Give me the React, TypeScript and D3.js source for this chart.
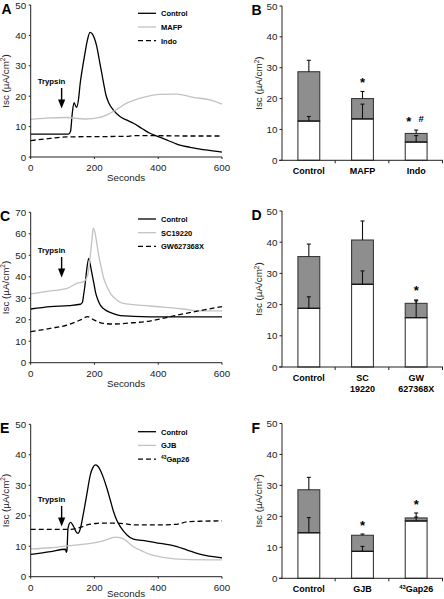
import React from "react";
import * as d3 from "d3";

const FONT = "'Liberation Sans', Arial, Helvetica, sans-serif";
type Pt = [number, number];

// ---------- Panel A ----------
const aControl: Pt[] = [[0,7.5],[60,7.5],[118,7.5],[125,8.5],[130,14],[136,17.9],[140,17],[144,16.3],[150,19],[155,24],[162,29],[170,34],[178,38.5],[186,41],[193,40.5],[200,39],[207,36.5],[215,32],[223,27.5],[230,23.5],[236,20.4],[245,17.8],[259,15.5],[280,13.3],[300,12.2],[322,11.1],[350,9.3],[374,7.8],[400,6.7],[426,5.6],[450,4.6],[468,3.9],[500,3.2],[531,2.6],[565,2.1],[600,1.6]];
const aMAFP: Pt[] = [[0,12.4],[50,12.8],[113,13.0],[170,12.5],[217,13.0],[249,14.4],[275,16],[301,17.7],[330,18.9],[353,19.6],[405,20.6],[458,20.7],[510,19.6],[562,18.8],[600,17.4]];
const aIndo: Pt[] = [[0,5.4],[61,6.1],[113,6.6],[200,6.7],[300,6.8],[322,7.0],[400,7.0],[500,6.9],[600,6.9]];

// ---------- Panel C ----------
const cControl: Pt[] = [[0,25],[62,26.1],[120,26.6],[156,27.2],[162,28],[166,31.5],[171,37],[175,42.4],[182,48.6],[187,45.5],[192,41.6],[198,37],[203,33],[210,29.5],[218,26.9],[228,25.2],[239,24.1],[260,22.8],[281,21.9],[322,21.6],[426,21.3],[600,21.3]];
const cSC: Pt[] = [[0,32],[62,33.4],[114,34.6],[146,37],[166,37.7],[179,40.8],[187,50],[192,57],[196,62.6],[200,61.5],[203,59.5],[208,55],[213,50.2],[221,44.5],[229,39.3],[240,35.2],[250,32.3],[270,29.2],[290,27.6],[374,26.4],[478,25],[530,24.1],[600,24.1]];
const cGW: Pt[] = [[0,14.4],[62,16],[114,17.5],[156,19.9],[179,21.4],[198,19.9],[215,18.8],[229,18.3],[260,18],[322,18.6],[374,19.4],[426,21],[478,22.7],[530,24.2],[600,26.1]];

// ---------- Panel E ----------
const eControl: Pt[] = [[0,7.3],[62,8.2],[109,9.0],[112,8.0],[114,9],[117,15.9],[125,17.8],[135,16.4],[142,14.8],[148,14.2],[156,15.9],[164,20],[172,24.6],[180,29.5],[187,33.4],[195,35.8],[203,36.7],[210,36.3],[218,35],[228,32.5],[239,29],[250,25],[260,21.3],[270,18.5],[281,16.4],[302,13.7],[322,12.3],[364,11.7],[406,10.9],[447,10.2],[489,8.8],[530,7.4],[600,6.2]];
const eGJB: Pt[] = [[0,9.1],[62,9.5],[114,10.1],[187,10.9],[218,11.5],[245,12.4],[265,13.0],[280,12.8],[291,12.4],[305,11.3],[322,9.8],[350,8.4],[374,7.3],[400,6.7],[426,6.2],[478,5.7],[600,5.5]];
const eGap: Pt[] = [[0,15.5],[114,15.5],[146,15.9],[162,16.4],[177,17.0],[200,17.4],[218,17.6],[260,17.6],[300,17.3],[322,17.0],[400,17.0],[458,17.2],[489,18.0],[530,18.2],[600,18.3]];

const xTicks = [0, 200, 400, 600];
const yTicks50 = [0, 10, 20, 30, 40, 50];
const yTicks70 = [0, 10, 20, 30, 40, 50, 60, 70];
const trypsinTime = 97;

// ---------- Bars ----------
const bCats = ["Control", "MAFP", "Indo"];
const bWhite = [12.7, 13.4, 5.9];
const bWhiteSE = [1.5, 4.8, 2.1];
const bTotal = [28.7, 20.0, 8.7];
const bTotalSE = [3.7, 2.3, 1.1];
const bMarks = ["", "*", "*#"];

const dCats = ["Control", "SC|19220", "GW|627368X"];
const dWhite = [18.8, 26.5, 15.8];
const dWhiteSE = [3.7, 4.3, 5.4];
const dTotal = [35.4, 40.7, 20.4];
const dTotalSE = [4.0, 6.1, 1.1];
const dMarks = ["", "", "*"];

const fCats = ["Control", "GJB", "43Gap26"];
const fWhite = [14.7, 8.7, 18.5];
const fWhiteSE = [4.9, 1.6, 1.3];
const fTotal = [28.6, 13.9, 19.5];
const fTotalSE = [4.0, 0.4, 1.6];
const fMarks = ["", "*", "*"];

const LIGHT = "#c2c2c2";
const BARGRAY = "#8e8e8e";

type Series = { name: string; data: Pt[]; color: string; dash?: string };

function Label({ text, x, y, size, anchor = "start" }: { text: string; x: number; y: number; size: number; anchor?: string }) {
  if (text.startsWith("43")) {
    return (
      <text x={x} y={y} fontSize={size} fontWeight="bold" textAnchor={anchor as any} fontFamily={FONT}>
        <tspan fontSize={size * 0.65} dy={-size * 0.35}>43</tspan>
        <tspan dy={size * 0.35}>{text.slice(2)}</tspan>
      </text>
    );
  }
  return (
    <text x={x} y={y} fontSize={size} fontWeight="bold" textAnchor={anchor as any} fontFamily={FONT}>{text}</text>
  );
}

function YLabel({ x, y }: { x: number; y: number }) {
  return (
    <text transform={`translate(${x},${y}) rotate(-90)`} fontSize={9.8} textAnchor="middle" fontFamily={FONT} fill="#222">
      Isc (µA/cm<tspan fontSize={6.5} dy={-3.5}>2</tspan><tspan dy={3.5}>)</tspan>
    </text>
  );
}

function LinePanel({ letter, top, bottom, yMax, yTicks, series, legendY, tryY, secY }: {
  letter: string; top: number; bottom: number; yMax: number; yTicks: number[]; series: Series[]; legendY: number; tryY: number; secY: number;
}) {
  const x = d3.scaleLinear().domain([0, 600]).range([30.7, 222]);
  const y = d3.scaleLinear().domain([0, yMax]).range([bottom, top]);
  const line = d3.line<Pt>().x(d => x(d[0])).y(d => y(d[1])).curve(d3.curveMonotoneX);
  const ax = x(0);
  const tx = x(trypsinTime);
  return (
    <g>
      <text x={letter === "A" ? 1.5 : 0} y={top + 9} fontSize={14} fontWeight="bold" fontFamily={FONT}>{letter}</text>
      {series.map(s => (
        <path key={s.name} d={line(s.data) || ""} fill="none" stroke={s.color} strokeWidth={1.3} strokeDasharray={s.dash} />
      ))}
      <line x1={ax} x2={ax} y1={top} y2={bottom} stroke="#222" strokeWidth={1} />
      <line x1={ax} x2={222} y1={bottom} y2={bottom} stroke="#222" strokeWidth={1} />
      {yTicks.map(t => (
        <g key={t}>
          <line x1={ax - 2} x2={ax} y1={y(t)} y2={y(t)} stroke="#222" />
          <text x={ax - 4.5} y={y(t) + 3.5} fontSize={9.8} textAnchor="end" fontFamily={FONT} fill="#222">{t}</text>
        </g>
      ))}
      {xTicks.map(t => (
        <g key={t}>
          <line x1={x(t)} x2={x(t)} y1={bottom} y2={bottom + 2} stroke="#222" />
          <text x={x(t)} y={bottom + 14} fontSize={9.8} textAnchor="middle" fontFamily={FONT} fill="#222">{t}</text>
        </g>
      ))}
      <text x={126} y={secY} fontSize={9.8} textAnchor="middle" fontFamily={FONT} fill="#222">Seconds</text>
      <YLabel x={8.5} y={(top + bottom) / 2} />
      {series.map((s, i) => (
        <g key={"lg" + s.name}>
          <line x1={138} x2={156} y1={legendY + i * 13.7} y2={legendY + i * 13.7} stroke={s.color} strokeWidth={1.3} strokeDasharray={s.dash} />
          <Label text={s.name} x={161} y={legendY + i * 13.7 + 2.8} size={7.5} />
        </g>
      ))}
      <Label text="Trypsin" x={51.5} y={tryY} size={7.8} anchor="middle" />
      <line x1={tx} x2={tx} y1={tryY + 4} y2={tryY + 16} stroke="#000" strokeWidth={1.4} />
      <path d={`M${tx - 3.6},${tryY + 15.5} L${tx + 3.6},${tryY + 15.5} L${tx},${tryY + 24.5} Z`} fill="#000" />
    </g>
  );
}

function BarPanel({ letter, top, bottom, cats, white, whiteSE, total, totalSE, marks }: {
  letter: string; top: number; bottom: number; cats: string[]; white: number[]; whiteSE: number[]; total: number[]; totalSE: number[]; marks: string[];
}) {
  const x = d3.scaleBand().domain(cats).range([282, 443]).paddingInner(0.593).paddingOuter(0.2965);
  const y = d3.scaleLinear().domain([0, 50]).range([bottom, top]);
  const step = x.step();
  const bw = x.bandwidth();
  const ax = 282;
  return (
    <g>
      <text x={251.5} y={top + 9} fontSize={14} fontWeight="bold" fontFamily={FONT}>{letter}</text>
      {cats.map((c, i) => {
        const x0 = x(c) as number;
        const cx = x0 + bw / 2;
        const my = y(total[i] + totalSE[i] + 3.8);
        const pair = marks[i].length > 1;
        return (
          <g key={c}>
            <rect x={x0} y={y(total[i])} width={bw} height={y(white[i]) - y(total[i])} fill={BARGRAY} stroke="#3a3a3a" strokeWidth={1.1} />
            <rect x={x0} y={y(white[i])} width={bw} height={bottom - y(white[i])} fill="#fff" stroke="#3a3a3a" strokeWidth={1.1} />
            <line x1={x0} x2={x0 + bw} y1={y(white[i])} y2={y(white[i])} stroke="#111" strokeWidth={1.1} />
            <line x1={cx} x2={cx} y1={y(white[i])} y2={y(white[i] + whiteSE[i])} stroke="#111" strokeWidth={1.1} />
            <line x1={cx - 2} x2={cx + 2} y1={y(white[i] + whiteSE[i])} y2={y(white[i] + whiteSE[i])} stroke="#111" strokeWidth={1.1} />
            <line x1={cx} x2={cx} y1={y(total[i])} y2={y(total[i] + totalSE[i])} stroke="#111" strokeWidth={1.1} />
            <line x1={cx - 2} x2={cx + 2} y1={y(total[i] + totalSE[i])} y2={y(total[i] + totalSE[i])} stroke="#111" strokeWidth={1.1} />
            {marks[i].includes("*") && (
              <text x={pair ? cx - 7.5 : cx} y={my + 7.4} fontSize={13} fontWeight="bold" textAnchor="middle" fontFamily={FONT}>*</text>
            )}
            {marks[i].includes("#") && (
              <text x={cx + 5} y={my + 3.4} fontSize={9.5} fontWeight="bold" textAnchor="middle" fontFamily={FONT}>#</text>
            )}
            {c.split("|").map((part, k) => (
              <Label key={k} text={part} x={cx} y={bottom + 13.5 + k * 11.3} size={9} anchor="middle" />
            ))}
          </g>
        );
      })}
      <line x1={ax} x2={ax} y1={top} y2={bottom} stroke="#222" strokeWidth={1} />
      <line x1={ax - 3} x2={443} y1={bottom} y2={bottom} stroke="#222" strokeWidth={1} />
      {[1, 2, 3].map(i => (
        <line key={i} x1={ax + step * i - 0.5} x2={ax + step * i - 0.5} y1={bottom} y2={bottom + 3} stroke="#222" />
      ))}
      {yTicks50.map(t => (
        <g key={t}>
          <line x1={ax - 2.5} x2={ax} y1={y(t)} y2={y(t)} stroke="#222" />
          <text x={ax - 4.5} y={y(t) + 3.5} fontSize={9.8} textAnchor="end" fontFamily={FONT} fill="#222">{t}</text>
        </g>
      ))}
      <YLabel x={262} y={(top + bottom) / 2} />
    </g>
  );
}

export default function App() {
  return (
    <div style={{ position: "absolute", left: 0, top: 0 }}>
      <svg width={444} height={599} viewBox="0 0 444 599" style={{ display: "block", background: "#fff" }}>
        <LinePanel letter="A" top={5} bottom={157} yMax={50} yTicks={yTicks50} legendY={13.3} tryY={84} secY={180.5}
          series={[
            { name: "Control", data: aControl, color: "#000" },
            { name: "MAFP", data: aMAFP, color: LIGHT },
            { name: "Indo", data: aIndo, color: "#000", dash: "5,3" },
          ]} />
        <BarPanel letter="B" top={6} bottom={160.3} cats={bCats} white={bWhite} whiteSE={bWhiteSE} total={bTotal} totalSE={bTotalSE} marks={bMarks} />
        <LinePanel letter="C" top={212.3} bottom={362.7} yMax={70} yTicks={yTicks70} legendY={219} tryY={253} secY={386.5}
          series={[
            { name: "Control", data: cControl, color: "#000" },
            { name: "SC19220", data: cSC, color: LIGHT },
            { name: "GW627368X", data: cGW, color: "#000", dash: "5,3" },
          ]} />
        <BarPanel letter="D" top={211} bottom={367} cats={dCats} white={dWhite} whiteSE={dWhiteSE} total={dTotal} totalSE={dTotalSE} marks={dMarks} />
        <LinePanel letter="E" top={424.3} bottom={576.7} yMax={50} yTicks={yTicks50} legendY={431.7} tryY={502} secY={596.5}
          series={[
            { name: "Control", data: eControl, color: "#000" },
            { name: "GJB", data: eGJB, color: LIGHT },
            { name: "43Gap26", data: eGap, color: "#000", dash: "5,3" },
          ]} />
        <BarPanel letter="F" top={423.5} bottom={578.3} cats={fCats} white={fWhite} whiteSE={fWhiteSE} total={fTotal} totalSE={fTotalSE} marks={fMarks} />
      </svg>
    </div>
  );
}
